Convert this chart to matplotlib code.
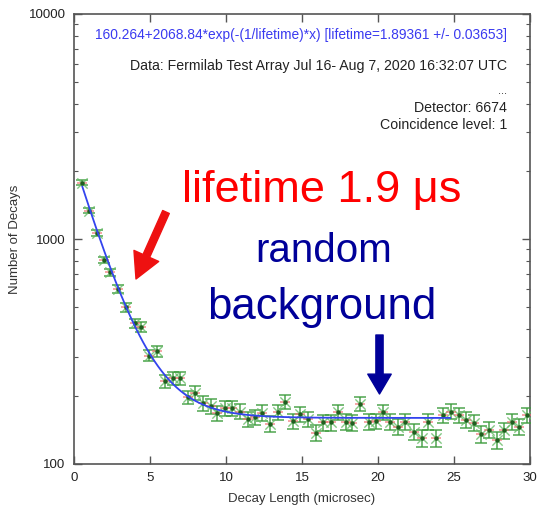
import numpy as np
import matplotlib
matplotlib.use("Agg")
import matplotlib.pyplot as plt
from matplotlib.ticker import FixedLocator, NullFormatter, LogLocator

plt.rcParams['font.family'] = ['Liberation Sans', 'DejaVu Sans']

# ---- data ----
decay_time = [0.55, 1.0, 1.5, 1.95, 2.4, 2.9, 3.45, 4.0, 4.4, 4.95,
              5.48, 6.0, 6.5, 6.97, 7.5, 7.94, 8.47, 9.0, 9.43, 9.93,
              10.4, 10.9, 11.47, 11.9, 12.4, 12.9, 13.4, 13.9, 14.4, 14.9,
              15.4, 15.9, 16.4, 16.9, 17.4, 17.9, 18.3, 18.8, 19.4, 19.9,
              20.35, 20.8, 21.3, 21.8, 22.4, 22.9, 23.3, 23.8, 24.3, 24.8,
              25.35, 25.8, 26.3, 26.8, 27.3, 27.8, 28.3, 28.8, 29.3, 29.8]
counts = [1778, 1336, 1066, 807, 711, 597, 497, 422, 408, 303,
          318, 234, 240, 240, 198, 207, 186, 181, 168, 177,
          177, 171, 158, 161, 169, 151, 170, 189, 155, 166,
          158, 138, 153, 153, 170, 154, 152, 185, 154, 155,
          170, 154, 146, 154, 139, 130, 154, 130, 165, 171,
          165, 157, 152, 136, 142, 128, 141, 154, 146, 165]
fit_background = 160.264
fit_amplitude = 2068.84
fit_lifetime = 1.89361
fit_range = [0.55, 24.75]

x_ticks = [0, 5, 10, 15, 20, 25, 30]
y_ticks = [100, 1000, 10000]

fit_label = "160.264+2068.84*exp(-(1/lifetime)*x) [lifetime=1.89361 +/- 0.03653]"
data_label = "Data: Fermilab Test Array Jul 16- Aug 7, 2020 16:32:07 UTC"
info_lines = ["...", "Detector: 6674", "Coincidence level: 1"]

W, H = 539, 515
fig = plt.figure(figsize=(W / 100, H / 100), dpi=100)

def fx(x):
    return x / W

def fy(y):
    return 1 - y / H

ax = fig.add_axes([fx(74), fy(464), (530 - 74) / W, (464 - 14) / H])
ax.set_yscale('log')
ax.set_xlim(0, 30)
ax.set_ylim(100, 10000)

x = np.array(decay_time)
y = np.array(counts, dtype=float)
err = np.sqrt(y)

ax.errorbar(x, y, yerr=err, fmt='none', ecolor='#3c9c3c', elinewidth=1.1,
            capsize=4.5, capthick=1.1, alpha=0.9, zorder=3)
ax.scatter(x, y, marker='x', s=55, color='#66bb66', linewidths=1.0, alpha=0.8, zorder=4)
ax.scatter(x, y, marker='_', s=60, color='#f07070', linewidths=1.1, alpha=0.8, zorder=4)
ax.scatter(x, y, marker='o', s=5, color='#1f5f1f', zorder=5)

xf = np.linspace(fit_range[0], fit_range[1], 400)
ax.plot(xf, fit_background + fit_amplitude * np.exp(-xf / fit_lifetime),
        color='#3344ee', lw=1.3, zorder=6)

ax.xaxis.set_major_locator(FixedLocator(x_ticks))
ax.set_xticklabels([str(t) for t in x_ticks])
ax.yaxis.set_major_locator(FixedLocator(y_ticks))
ax.set_yticklabels([str(t) for t in y_ticks])
ax.yaxis.set_minor_locator(LogLocator(base=10, subs=np.arange(2, 10)))
ax.yaxis.set_minor_formatter(NullFormatter())
ax.tick_params(axis='both', which='both', direction='in', top=True, right=True,
               colors='#555555', labelcolor='#222222', labelsize=9.5)
ax.tick_params(axis='both', which='major', length=6, width=1)
ax.tick_params(axis='y', which='minor', length=3, width=0.8)
ax.tick_params(axis='x', pad=6)
ax.tick_params(axis='y', pad=6)
for s in ax.spines.values():
    s.set_color('#555555')
    s.set_linewidth(1.2)

ax.set_xlabel("Decay Length (microsec)", fontsize=9.5, color='#333333', labelpad=6)
ax.set_ylabel("Number of Decays", fontsize=9.5, color='#333333')
ax.yaxis.set_label_coords((21 - 74) / 456, 0.5)

# text block inside the plot
fs = 10.2
fig.text(fx(507), fy(35), fit_label, color='#3a3af0', fontsize=9.9, ha='right', va='center')
fig.text(fx(507), fy(66), data_label, color='#222222', fontsize=fs, ha='right', va='center')
fig.text(fx(507), fy(91), info_lines[0], color='#222222', fontsize=8, ha='right', va='center')
fig.text(fx(507), fy(108), info_lines[1], color='#222222', fontsize=fs, ha='right', va='center')
fig.text(fx(507), fy(125), info_lines[2], color='#222222', fontsize=fs, ha='right', va='center')

# overlay annotations
fig.text(fx(322), fy(191), "lifetime 1.9 \u03bcs", color='#ff0000', fontsize=32.5,
         ha='center', va='center')
fig.text(fx(324), fy(251), "random", color='#000099', fontsize=29, ha='center', va='center')
fig.text(fx(322), fy(308), "background", color='#000099', fontsize=31.5, ha='center', va='center')

ax.annotate("", xy=(fx(136), fy(279)), xytext=(fx(166), fy(212)),
            xycoords='figure fraction', textcoords='figure fraction',
            arrowprops=dict(arrowstyle='simple,head_width=1.5,head_length=1.4,tail_width=0.4',
                            color='#ee1111', mutation_scale=13, shrinkA=0, shrinkB=0),
            annotation_clip=False)
ax.annotate("", xy=(fx(379.5), fy(394)), xytext=(fx(379.5), fy(335)),
            xycoords='figure fraction', textcoords='figure fraction',
            arrowprops=dict(arrowstyle='simple,head_width=1.3,head_length=1.1,tail_width=0.4',
                            color='#000099', mutation_scale=13, shrinkA=0, shrinkB=0),
            annotation_clip=False)

fig.savefig("out.png", dpi=100)
